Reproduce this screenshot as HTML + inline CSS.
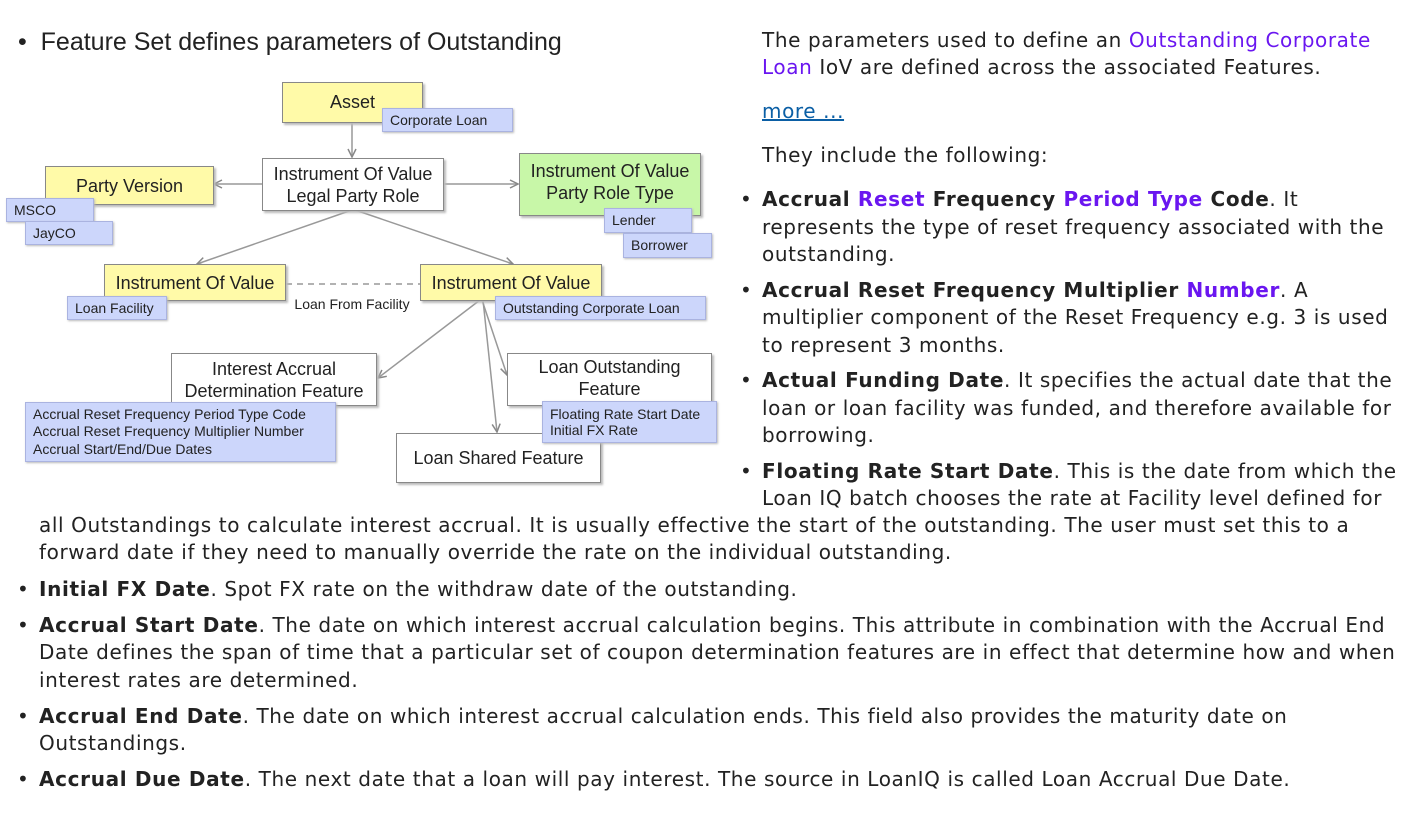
<!DOCTYPE html>
<html><head><meta charset="utf-8">
<style>
body{margin:0;width:1402px;height:814px;background:#fff;position:relative;overflow:hidden;font-family:"DejaVu Sans","Liberation Sans",sans-serif;color:#222}
.l{position:absolute;white-space:nowrap;font-size:20px;line-height:28px;height:28px;letter-spacing:0.6px}
.l b{letter-spacing:0.66px}
.p{color:#6a16f0}
b{font-weight:bold}
.bu{position:absolute;font-size:20px;line-height:28px}
.d{position:absolute;font-family:"Liberation Sans",Arial,sans-serif;box-sizing:border-box;text-align:center;color:#222;white-space:nowrap}
.box{border:1.5px solid #888;box-shadow:2px 2px 2px #bbb;font-size:18px;line-height:22px;display:flex;align-items:center;justify-content:center;flex-direction:column}
.y{background:#fffaa8}
.g{background:#c8f7a8}
.w{background:#fff}
.t{background:#ccd6fb;border:1px solid #aab3e0;box-shadow:1px 1px 2px #bbb;font-size:14px;line-height:17px;text-align:left;padding-left:7px;display:flex;align-items:center}
</style></head><body>
<div class="d" style="left:18px;top:28px;font-size:25px;line-height:28px;text-align:left">•&nbsp; Feature Set defines parameters of Outstanding</div>
<svg width="740" height="500" style="position:absolute;left:0;top:0">
<defs><marker id="a" markerWidth="10" markerHeight="10" refX="9" refY="5" orient="auto" markerUnits="userSpaceOnUse"><path d="M1,1 L9,5 L1,9" fill="none" stroke="#888" stroke-width="1.5"/></marker></defs>
<g stroke="#999" stroke-width="1.5" fill="none">
<line x1="352" y1="122" x2="352" y2="157" marker-end="url(#a)"/>
<line x1="262" y1="184" x2="214" y2="184" marker-end="url(#a)"/>
<line x1="443" y1="184" x2="518" y2="184" marker-end="url(#a)"/>
<line x1="352" y1="210" x2="197" y2="264" marker-end="url(#a)"/>
<line x1="355" y1="210" x2="513" y2="264" marker-end="url(#a)"/>
<line x1="286" y1="284" x2="420" y2="284" stroke-dasharray="6,5"/>
<line x1="480" y1="300" x2="378" y2="378" marker-end="url(#a)"/>
<line x1="482" y1="300" x2="507" y2="375" marker-end="url(#a)"/>
<line x1="483" y1="300" x2="497" y2="432" marker-end="url(#a)"/>
</g></svg>
<div class="d box y" style="left:282px;top:82px;width:141px;height:41px;padding-bottom:2px">Asset</div>
<div class="d t" style="left:382px;top:108px;width:131px;height:24px">Corporate Loan</div>
<div class="d box w" style="left:262px;top:158px;width:182px;height:53px">Instrument Of Value<br>Legal Party Role</div>
<div class="d box y" style="left:45px;top:166px;width:169px;height:39px">Party Version</div>
<div class="d t" style="left:6px;top:198px;width:88px;height:24px">MSCO</div>
<div class="d t" style="left:25px;top:221px;width:88px;height:24px">JayCO</div>
<div class="d box g" style="left:519px;top:153px;width:182px;height:63px;padding-bottom:6px">Instrument Of Value<br>Party Role Type</div>
<div class="d t" style="left:604px;top:208px;width:88px;height:25px">Lender</div>
<div class="d t" style="left:623px;top:233px;width:89px;height:25px">Borrower</div>
<div class="d box y" style="left:104px;top:264px;width:182px;height:37px">Instrument Of Value</div>
<div class="d t" style="left:67px;top:296px;width:100px;height:24px">Loan Facility</div>
<div class="d" style="left:286px;top:296px;width:132px;font-size:14px;line-height:17px">Loan From Facility</div>
<div class="d box y" style="left:420px;top:264px;width:182px;height:37px">Instrument Of Value</div>
<div class="d t" style="left:495px;top:296px;width:211px;height:24px">Outstanding Corporate Loan</div>
<div class="d box w" style="left:171px;top:353px;width:206px;height:53px">Interest Accrual<br>Determination Feature</div>
<div class="d t" style="left:25px;top:402px;width:311px;height:60px;line-height:17.5px">Accrual Reset Frequency Period Type Code<br>Accrual Reset Frequency Multiplier Number<br>Accrual Start/End/Due Dates</div>
<div class="d box w" style="left:396px;top:433px;width:205px;height:50px">Loan Shared Feature</div>
<div class="d box w" style="left:507px;top:353px;width:205px;height:53px;padding-bottom:4px">Loan Outstanding<br>Feature</div>
<div class="d t" style="left:542px;top:401px;width:175px;height:42px;line-height:16px">Floating Rate Start Date<br>Initial FX Rate</div>

<div class="l" style="left:762px;top:26px">The parameters used to define an <span class="p">Outstanding Corporate</span></div>
<div class="l" style="left:762px;top:53px"><span class="p">Loan</span> IoV are defined across the associated Features.</div>
<div class="l" style="left:762px;top:97px;color:#0b5fa5;text-decoration:underline">more ...</div>
<div class="l" style="left:762px;top:141px">They include the following:</div>
<div class="bu" style="left:740px;top:185px">•</div>
<div class="l" style="left:762px;top:185px"><b>Accrual <span class="p">Reset</span> Frequency <span class="p">Period Type</span> Code</b>. It</div>
<div class="l" style="left:762px;top:213px">represents the type of reset frequency associated with the</div>
<div class="l" style="left:762px;top:240px">outstanding.</div>
<div class="bu" style="left:740px;top:276px">•</div>
<div class="l" style="left:762px;top:276px"><b>Accrual Reset Frequency Multiplier <span class="p">Number</span></b>. A</div>
<div class="l" style="left:762px;top:303px">multiplier component of the Reset Frequency e.g. 3 is used</div>
<div class="l" style="left:762px;top:331px">to represent 3 months.</div>
<div class="bu" style="left:740px;top:366px">•</div>
<div class="l" style="left:762px;top:366px"><b>Actual Funding Date</b>. It specifies the actual date that the</div>
<div class="l" style="left:762px;top:394px">loan or loan facility was funded, and therefore available for</div>
<div class="l" style="left:762px;top:421px">borrowing.</div>
<div class="bu" style="left:740px;top:457px">•</div>
<div class="l" style="left:762px;top:457px"><b>Floating Rate Start Date</b>. This is the date from which the</div>
<div class="l" style="left:762px;top:484px">Loan IQ batch chooses the rate at Facility level defined for</div>
<div class="l" style="left:39px;top:511px">all Outstandings to calculate interest accrual. It is usually effective the start of the outstanding. The user must set this to a</div>
<div class="l" style="left:39px;top:538px">forward date if they need to manually override the rate on the individual outstanding.</div>
<div class="bu" style="left:17px;top:575px">•</div>
<div class="l" style="left:39px;top:575px"><b>Initial FX Date</b>. Spot FX rate on the withdraw date of the outstanding.</div>
<div class="bu" style="left:17px;top:611px">•</div>
<div class="l" style="left:39px;top:611px"><b>Accrual Start Date</b>. The date on which interest accrual calculation begins. This attribute in combination with the Accrual End</div>
<div class="l" style="left:39px;top:638px">Date defines the span of time that a particular set of coupon determination features are in effect that determine how and when</div>
<div class="l" style="left:39px;top:666px">interest rates are determined.</div>
<div class="bu" style="left:17px;top:702px">•</div>
<div class="l" style="left:39px;top:702px"><b>Accrual End Date</b>. The date on which interest accrual calculation ends. This field also provides the maturity date on</div>
<div class="l" style="left:39px;top:729px">Outstandings.</div>
<div class="bu" style="left:17px;top:765px">•</div>
<div class="l" style="left:39px;top:765px"><b>Accrual Due Date</b>. The next date that a loan will pay interest. The source in LoanIQ is called Loan Accrual Due Date.</div>
</body></html>
